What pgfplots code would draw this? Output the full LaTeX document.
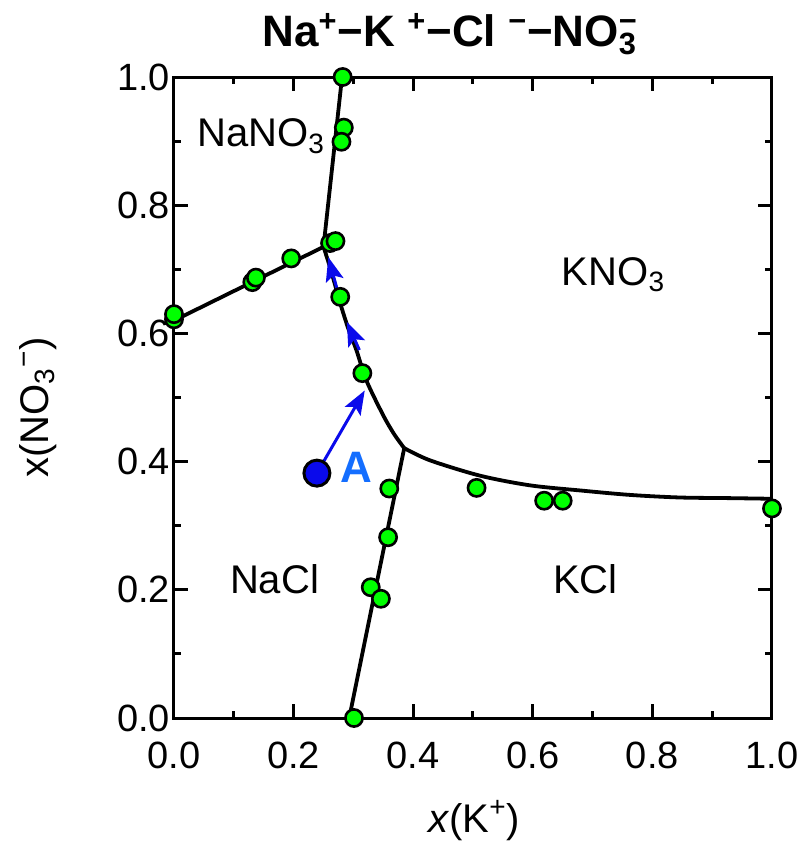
\documentclass[border=0pt]{standalone}
\usepackage{pgfplots}
\pgfplotsset{compat=1.18}
\usepackage{fontspec}
\setmainfont{Liberation Sans}
\usetikzlibrary{arrows.meta}
\definecolor{ptgreen}{RGB}{0,255,0}
\definecolor{Ablue}{RGB}{10,10,235}
\definecolor{Alabel}{RGB}{20,110,255}
\begin{document}
\begin{tikzpicture}
\useasboundingbox (-87pt,-62pt) rectangle (314pt,359pt);
\begin{axis}[
  scale only axis, width=299pt, height=320.5pt,
  xmin=0, xmax=1, ymin=0, ymax=1,
  xtick={0,0.2,0.4,0.6,0.8,1}, ytick={0,0.2,0.4,0.6,0.8,1},
  minor tick num=1,
  tick align=inside,
  major tick length=7pt, minor tick length=3.5pt,
  axis line style={line width=1.5pt},
  every tick/.style={line width=1.5pt, black},
  /pgf/number format/assume math mode=true,
  /pgf/number format/fixed, /pgf/number format/fixed zerofill, /pgf/number format/precision=1,
  tick label style={font=\fontsize{19}{22}\selectfont},
  xticklabel style={yshift=-8.5pt},
  yticklabel style={xshift=1.5pt},
  clip=false,
]
% phase boundaries
\addplot[black, line width=1.9pt] coordinates {(0.281,1.0) (0.250,0.735)};
\addplot[black, line width=1.9pt] coordinates {(0,0.620) (0.250,0.735)};
\addplot[black, line width=1.9pt, smooth, tension=0.5] coordinates {(0.250,0.735) (0.262,0.700) (0.278,0.647) (0.292,0.606) (0.305,0.574) (0.322,0.526) (0.350,0.472) (0.368,0.443) (0.385,0.421)};
\addplot[black, line width=1.9pt] coordinates {(0.385,0.421) (0.293,0.0)};
\addplot[black, line width=1.9pt, smooth, tension=0.5] coordinates {(0.385,0.421) (0.428,0.402) (0.512,0.378) (0.595,0.363) (0.679,0.355) (0.763,0.348) (0.846,0.344) (0.93,0.343) (1.0,0.342)};
% arrows
\addplot[Ablue, line width=1.5pt, -{Stealth[length=12pt,width=9pt,inset=2.5pt]}] coordinates {(0.239,0.382) (0.319,0.511)};
\addplot[Ablue, line width=1.5pt, -{Stealth[length=12pt,width=9pt,inset=2.5pt]}] coordinates {(0.310,0.574) (0.289,0.618)};
\addplot[Ablue, line width=1.5pt, -{Stealth[length=12pt,width=9pt,inset=2.5pt]}] coordinates {(0.273,0.668) (0.258,0.719)};
% data points
\addplot[only marks, mark=*, mark size=4.3pt, mark options={fill=ptgreen, draw=black, line width=1.3pt}] coordinates {
(0.282,1.000) (0.284,0.921) (0.280,0.899) (0.261,0.741) (0.270,0.744)
(0.196,0.717) (0.131,0.680) (0.137,0.687) (0.000,0.622) (0.000,0.630)
(0.278,0.657) (0.315,0.538) (0.360,0.358) (0.358,0.282) (0.329,0.204)
(0.346,0.186) (0.301,0.000) (0.506,0.359) (0.619,0.339) (0.650,0.339)
(1.000,0.327)};
\addplot[only marks, mark=*, mark size=6.5pt, mark options={fill=Ablue, draw=black, line width=1.5pt}] coordinates {(0.239,0.382)};
% texts
\node[anchor=base west, font=\fontsize{20}{24}\selectfont] at (rel axis cs:0.027,0.891) {NaNO\textsubscript{3}};
\node[anchor=base west, font=\fontsize{20}{24}\selectfont] at (rel axis cs:0.637,0.675) {KNO\textsubscript{3}};
\node[anchor=base west, font=\fontsize{20}{24}\selectfont] at (rel axis cs:0.082,0.195) {NaCl};
\node[anchor=base west, font=\fontsize{20}{24}\selectfont] at (rel axis cs:0.622,0.195) {KCl};
\node[anchor=base west, font=\fontsize{22}{26}\selectfont\bfseries, text=Alabel] at (rel axis cs:0.266,0.368) {A};
\node[anchor=base, font=\fontsize{22}{26}\selectfont\bfseries] at (rel axis cs:0.477,1.047) {Na\textsuperscript{+}−K \textsuperscript{+}−Cl \textsuperscript{−}−NO\rlap{\textsuperscript{−}}\textsubscript{3}\hphantom{\textsuperscript{−}}};
\node[anchor=center, font=\fontsize{20}{24}\selectfont] at (rel axis cs:0.502,-0.160) {\textit{x}(K\textsuperscript{+})};
\node[anchor=center, rotate=90, font=\fontsize{20}{24}\selectfont] at (rel axis cs:-0.227,0.485) {x(NO\textsubscript{3}\textsuperscript{−})};
\end{axis}
\end{tikzpicture}
\end{document}
